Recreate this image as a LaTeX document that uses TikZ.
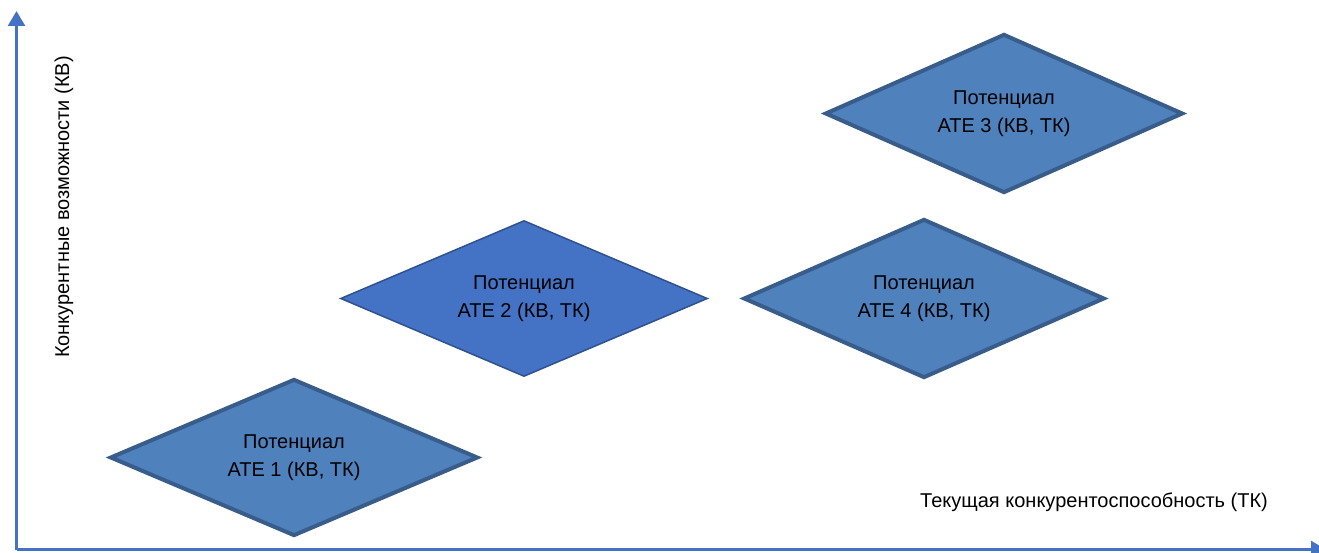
\documentclass[tikz,border=0pt]{standalone}
\usepackage{fontspec}
\setmainfont{Liberation Sans}
\usetikzlibrary{shapes.geometric,arrows.meta}
\definecolor{axisblue}{HTML}{4472C4}
\definecolor{fillA}{HTML}{4F81BD}
\definecolor{borderA}{HTML}{385D8A}
\definecolor{fillB}{HTML}{4472C4}
\definecolor{borderB}{HTML}{2F528F}
\tikzset{
  potA/.style={diamond, aspect=2.3, draw=borderA, fill=fillA, line width=4pt, inner sep=0pt, align=center,
    font=\fontsize{20}{28}\selectfont, text=black},
  potB/.style={diamond, aspect=2.3, draw=borderB, fill=fillB, line width=1.5pt, inner sep=0pt, align=center,
    font=\fontsize{20}{28}\selectfont, text=black},
  axis/.style={draw=axisblue, line width=2.5pt, -{Triangle[width=17pt,length=15pt]}},
  axlabel/.style={font=\fontsize{20}{24}\selectfont, text=black, inner sep=0pt}
}
\begin{document}
\begin{tikzpicture}[x=1pt,y=-1pt]
\useasboundingbox (0,0) rectangle (1319,553);
\coordinate (O) at (16.5,549.5);
\coordinate (ytip) at (16.5,11);
\coordinate (xtip) at (1326,549.5);
\draw[axis] (O) -- (ytip);
\draw[axis] (O) -- (xtip);
\node[potA, minimum width=368pt, minimum height=157pt] (d1) at (294,457.5) {Потенциал\\АТЕ 1 (КВ, ТК)};
\node[potB, minimum width=367pt, minimum height=156pt] (d2) at (524,298.5) {Потенциал\\АТЕ 2 (КВ, ТК)};
\node[potA, minimum width=358pt, minimum height=159pt] (d3) at (1004,113.5) {Потенциал\\АТЕ 3 (КВ, ТК)};
\node[potA, minimum width=361pt, minimum height=159pt] (d4) at (924,298.5) {Потенциал\\АТЕ 4 (КВ, ТК)};
\node[axlabel, rotate=90] (ylab) at (64,207) {Конкурентные возможности (КВ)};
\node[axlabel] (xlab) at (1094,502) {Текущая конкурентоспособность (ТК)};
\end{tikzpicture}
\end{document}
